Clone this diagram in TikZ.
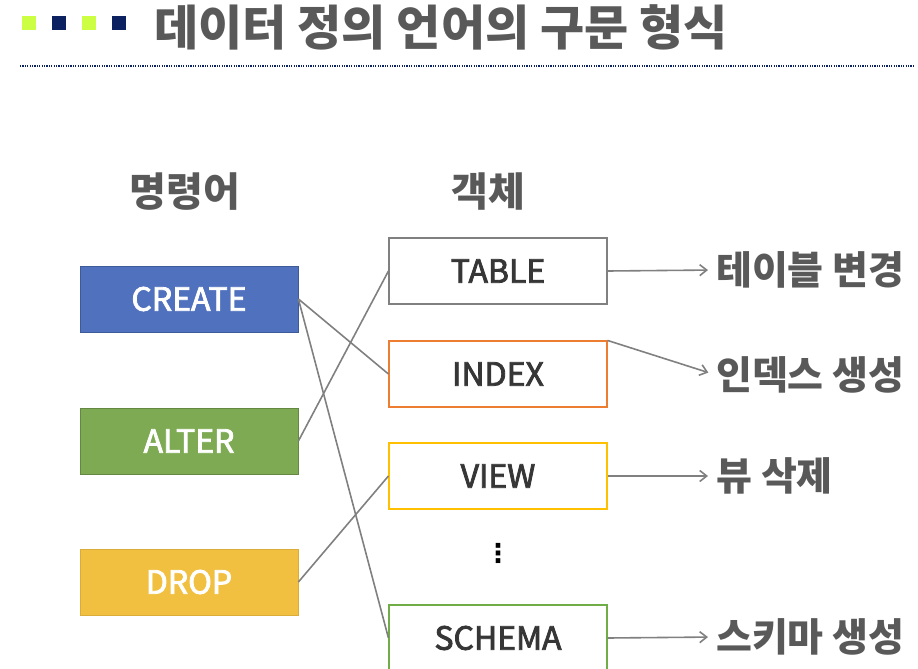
\documentclass[tikz,border=0pt]{standalone}
\usepackage{fontspec}
\setmainfont{Noto Sans CJK KR}
\newfontfamily\boxfont[FakeBold=2.5]{Noto Sans CJK KR}
\newfontfamily\dejavu{DejaVu Sans}
\usetikzlibrary{arrows.meta}
\definecolor{txtgray}{HTML}{595959}
\definecolor{boxtxt}{HTML}{363636}
\definecolor{linegray}{HTML}{808080}
\definecolor{lime}{HTML}{CCFF44}
\definecolor{navy}{HTML}{0B2160}
\definecolor{cblue}{HTML}{4F71BE}
\definecolor{cgreen}{HTML}{7DAA52}
\definecolor{cyellow}{HTML}{F2C040}
\definecolor{borange}{HTML}{ED7D31}
\definecolor{byellow}{HTML}{FFC000}
\definecolor{bgreen}{HTML}{70AD47}
\tikzset{
  cmdbox/.style={draw, line width=0.8pt, minimum width=218pt, minimum height=66pt, inner sep=0pt, text=white, font=\boxfont\fontsize{32}{34}\selectfont},
  objbox/.style={draw, line width=1.1pt, fill=white, minimum width=218pt, minimum height=66pt, inner sep=0pt, text=boxtxt, font=\boxfont\fontsize{32}{34}\selectfont},
  conn/.style={draw=linegray, line width=1.6pt},
  arr/.style={draw=linegray, line width=1.6pt, shorten >=8pt, -{Straight Barb[length=7pt,width=11pt]}},
  lbl/.style={anchor=west, inner sep=0pt, text=txtgray, font=\bfseries\fontsize{39}{42}\selectfont},
  hdr/.style={inner sep=0pt, text=txtgray, font=\bfseries\fontsize{40}{44}\selectfont},
  sq/.style={inner sep=0pt, minimum size=14pt}
}
\begin{document}
\begin{tikzpicture}[x=1pt,y=-1pt]
\useasboundingbox (0,0) rectangle (918,669);
% title
\node[sq, fill=lime] (s1) at (29,23) {};
\node[sq, fill=navy] (s2) at (59,23) {};
\node[sq, fill=lime] (s3) at (89,23) {};
\node[sq, fill=navy] (s4) at (119,23) {};
\node[anchor=west, inner sep=0pt, text=txtgray, font=\bfseries\fontsize{48}{50}\selectfont] (title) at (154,27) {데이터 정의 언어의 구문 형식};
\coordinate (dl) at (20,66);
\coordinate (dr) at (915,66);
\draw[navy, line width=1.2pt, dash pattern=on 1.2pt off 1.2pt] (dl) -- (dr);
% headers
\node[hdr] (h1) at (185,192) {명령어};
\node[hdr] (h2) at (488,192) {객체};
% command boxes
\node[cmdbox, fill=cblue, draw=cblue!80!black] (create) at (189,299) {CREATE};
\node[cmdbox, fill=cgreen, draw=cgreen!80!black] (alter) at (189,441) {ALTER};
\node[cmdbox, fill=cyellow, draw=cyellow!90!black] (drop) at (189,582) {DROP};
% object boxes
\node[objbox, draw=linegray] (table) at (498,271) {TABLE};
\node[objbox, draw=borange] (index) at (498,374) {INDEX};
\node[objbox, draw=byellow] (view) at (498,476) {VIEW};
\node[objbox, draw=bgreen] (schema) at (498,638) {SCHEMA};
\node[inner sep=0pt, text=black, font=\dejavu\bfseries\fontsize{26}{28}\selectfont] (dots) at (498,553) {⋮};
% connectors
\draw[conn] (create.east) -- (index.west);
\draw[conn] (create.east) -- (schema.west);
\draw[conn] (alter.east) -- (table.west);
\draw[conn] (drop.east) -- (view.west);
% result labels
\node[lbl] (r1) at (716,270) {테이블 변경};
\node[lbl] (r2) at (716,375) {인덱스 생성};
\node[lbl] (r3) at (716,476) {뷰 삭제};
\node[lbl] (r4) at (716,637) {스키마 생성};
\draw[arr] (table.east) -- (r1.west);
\draw[arr] (index.north east) -- (r2.west);
\draw[arr] (view.east) -- (r3.west);
\draw[arr] (schema.east) -- (r4.west);
\end{tikzpicture}
\end{document}
